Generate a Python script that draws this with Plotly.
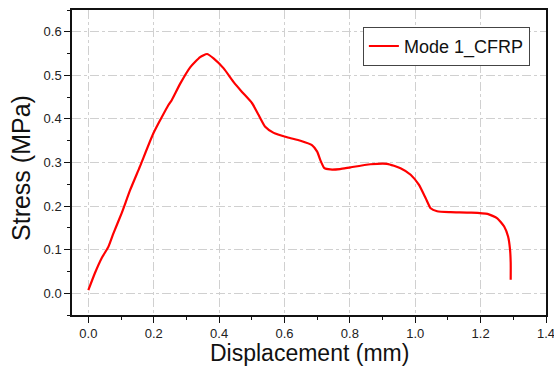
import plotly.graph_objects as go

displacement = [0.0, 0.0205, 0.041, 0.061, 0.077, 0.102, 0.128, 0.158, 0.199, 0.245, 0.255,
                0.281, 0.312, 0.342, 0.363, 0.383, 0.414, 0.444, 0.470, 0.501, 0.521, 0.541,
                0.567, 0.608, 0.649, 0.684, 0.700, 0.710, 0.722, 0.740, 0.770, 0.802, 0.863,
                0.914, 0.955, 0.986, 1.011, 1.032, 1.047, 1.067, 1.108, 1.169, 1.221, 1.251,
                1.272, 1.284, 1.290, 1.292, 1.292]
stress = [0.007, 0.047, 0.081, 0.106, 0.138, 0.184, 0.237, 0.291, 0.367, 0.432, 0.443,
          0.481, 0.519, 0.542, 0.549, 0.539, 0.516, 0.485, 0.462, 0.436, 0.409, 0.382,
          0.368, 0.358, 0.350, 0.340, 0.325, 0.305, 0.287, 0.284, 0.285, 0.289, 0.296,
          0.297, 0.287, 0.272, 0.249, 0.218, 0.195, 0.188, 0.186, 0.185, 0.182, 0.172,
          0.153, 0.130, 0.100, 0.070, 0.031]

x_ticks = [0.0, 0.2, 0.4, 0.6, 0.8, 1.0, 1.2, 1.4]
y_ticks = [0.0, 0.1, 0.2, 0.3, 0.4, 0.5, 0.6]
x_title = "Displacement (mm)"
y_title = "Stress (MPa)"

FONT = "Liberation Sans, Arial, sans-serif"

fig = go.Figure()
fig.add_trace(go.Scatter(
    x=displacement, y=stress, mode="lines", name="Mode 1_CFRP",
    line=dict(color="#ff0000", width=2.2, shape="spline", smoothing=0.5),
))

axis_common = dict(
    showline=True, linecolor="#111111", linewidth=1.5, mirror=True,
    ticks="outside", ticklen=6, tickwidth=1.2, tickcolor="#111111",
    showgrid=True, gridcolor="#d0d0d0", griddash="dashdot", gridwidth=1,
    zeroline=False, automargin=False, ticklabeloverflow="allow",
    tickfont=dict(family=FONT, size=13, color="#222222"),
)

fig.update_layout(
    width=554, height=367,
    margin=dict(l=72, r=8, t=10, b=52),
    paper_bgcolor="white", plot_bgcolor="white",
    font=dict(family=FONT, color="#111111"),
    showlegend=True,
    legend=dict(
        x=0.966, y=0.945, xanchor="right", yanchor="top",
        bordercolor="#444444", borderwidth=1, bgcolor="white",
        font=dict(family=FONT, size=18, color="#111111"),
        tracegroupgap=0,
    ),
    xaxis=dict(
        range=[-0.05, 1.4], tickvals=x_ticks,
        ticktext=[f"{v:.1f}" for v in x_ticks],
        minor=dict(dtick=0.1, tick0=0, ticks="outside", ticklen=3, tickcolor="#111111", showgrid=False),
        **axis_common,
    ),
    yaxis=dict(
        range=[-0.05, 0.65], tickvals=y_ticks,
        ticktext=[f"{v:.1f}" for v in y_ticks],
        minor=dict(dtick=0.05, tick0=0, ticks="outside", ticklen=3, tickcolor="#111111", showgrid=False),
        **axis_common,
    ),
    annotations=[
        dict(text=x_title, xref="paper", yref="paper", x=0.502, y=-0.126,
             xanchor="center", yanchor="middle", showarrow=False,
             font=dict(family=FONT, size=23, color="#111111")),
        dict(text=y_title, xref="paper", yref="paper", x=-0.1076, y=0.482,
             xanchor="center", yanchor="middle", showarrow=False, textangle=-90,
             font=dict(family=FONT, size=25, color="#111111")),
    ],
)

fig.write_html(
    "out.html",
    config={"displayModeBar": False},
    post_script="document.body.style.margin='0';document.body.style.padding='0';document.body.style.overflow='hidden';",
)
